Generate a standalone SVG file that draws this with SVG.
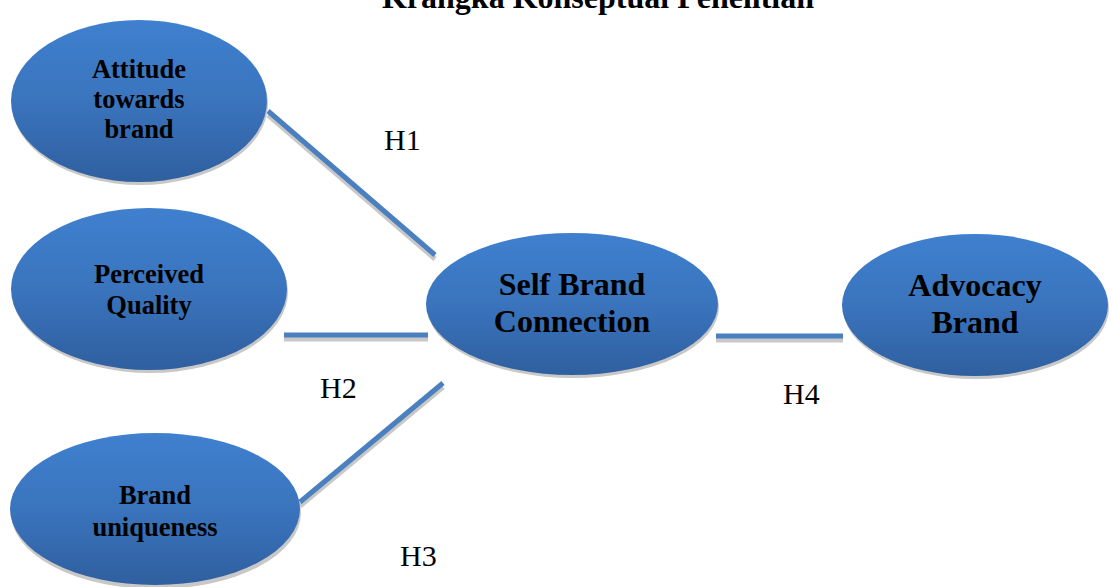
<svg xmlns="http://www.w3.org/2000/svg" width="1112" height="587" viewBox="0 0 1112 587">
<defs>
<linearGradient id="g" x1="0" y1="0" x2="0" y2="1">
<stop offset="0" stop-color="#3f80cf"/>
<stop offset="0.5" stop-color="#3a74bd"/>
<stop offset="1" stop-color="#2f5f9f"/>
</linearGradient>
</defs>
<style>
.node{fill:url(#g);}
.sh{fill:#c8c8c8;}
.t{font-family:"Liberation Serif","Times New Roman",serif;font-weight:bold;fill:#000;text-anchor:middle;}
.s{font-size:26.5px;}
.b{font-size:32px;}
.h{font-family:"Liberation Serif","Times New Roman",serif;font-size:30px;fill:#000;}
.ln{stroke:#4a7fc0;stroke-width:5;fill:none;}
.lns{stroke:#c8c8c8;stroke-width:5;fill:none;}
</style>
<rect width="1112" height="587" fill="#fff"/>
<text x="598" y="8" class="t" style="font-size:32px">Krangka Konseptual Penelitian</text>
<g id="connectors">
<line class="lns" x1="268" y1="115" x2="435" y2="259"/>
<line class="ln" x1="268" y1="111" x2="435" y2="255"/>
<line class="lns" x1="284" y1="339" x2="428" y2="339"/>
<line class="ln" x1="284" y1="335" x2="428" y2="335"/>
<line class="lns" x1="300" y1="506" x2="443" y2="387"/>
<line class="ln" x1="300" y1="502" x2="443" y2="383"/>
<line class="lns" x1="716" y1="340" x2="843" y2="340"/>
<line class="ln" x1="716" y1="336" x2="843" y2="336"/>
<text class="h" x="384" y="150">H1</text>
<text class="h" x="320" y="398">H2</text>
<text class="h" x="400" y="566">H3</text>
<text class="h" x="783" y="404">H4</text>
</g>
<g id="attitude">
<ellipse class="sh" cx="140" cy="104" rx="128" ry="81"/>
<ellipse class="node" cx="139" cy="101" rx="128" ry="81"/>
<text class="t s" x="139" y="78">Attitude</text>
<text class="t s" x="139" y="108">towards</text>
<text class="t s" x="139" y="138">brand</text>
</g>
<g id="quality">
<ellipse class="sh" cx="150" cy="292" rx="138" ry="81"/>
<ellipse class="node" cx="149" cy="289" rx="138" ry="81"/>
<text class="t s" x="149" y="283">Perceived</text>
<text class="t s" x="149" y="314">Quality</text>
</g>
<g id="uniqueness">
<ellipse class="sh" cx="156" cy="513" rx="145" ry="76"/>
<ellipse class="node" cx="155" cy="509" rx="145" ry="76"/>
<text class="t s" x="155" y="504">Brand</text>
<text class="t s" x="155" y="536">uniqueness</text>
</g>
<g id="selfbrand">
<ellipse class="sh" cx="573" cy="307" rx="146" ry="71"/>
<ellipse class="node" cx="572" cy="304" rx="146" ry="71"/>
<text class="t b" x="572" y="295">Self Brand</text>
<text class="t b" x="572" y="332">Connection</text>
</g>
<g id="advocacy">
<ellipse class="sh" cx="976" cy="308" rx="133" ry="71"/>
<ellipse class="node" cx="975" cy="305" rx="133" ry="71"/>
<text class="t b" x="975" y="296">Advocacy</text>
<text class="t b" x="975" y="333">Brand</text>
</g>
</svg>
